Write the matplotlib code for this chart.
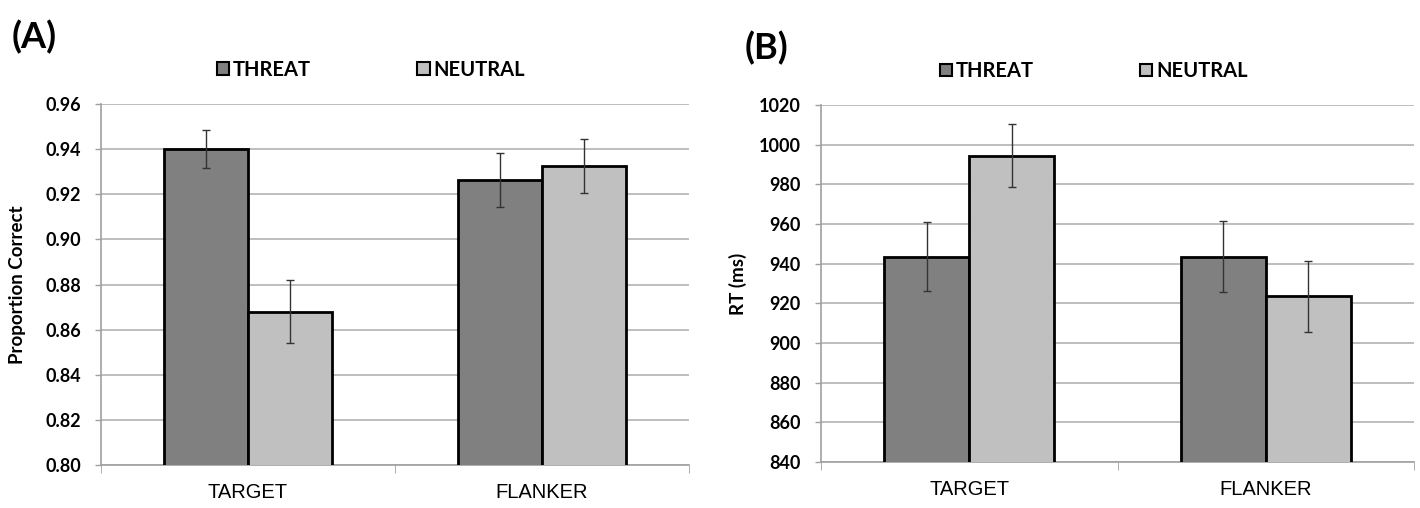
import matplotlib.pyplot as plt
from matplotlib.patches import Patch
import numpy as np

plt.rcParams["font.family"] = ["Lato", "DejaVu Sans"]

categories = ["TARGET", "FLANKER"]
series = ["THREAT", "NEUTRAL"]
colors = ["#808080", "#c0c0c0"]

# panel A: proportion correct
acc_threat = [0.940, 0.9265]
acc_neutral = [0.868, 0.9325]
acc_threat_err = [0.0085, 0.012]
acc_neutral_err = [0.014, 0.0118]

# panel B: reaction time
rt_threat = [943.5, 943.5]
rt_neutral = [994.5, 923.5]
rt_threat_err = [17.5, 18]
rt_neutral_err = [16, 18]

fig = plt.figure(figsize=(14.2, 5.08), dpi=100)
ax_a = fig.add_axes([0.0711, 0.0846, 0.4141, 0.7106])
ax_b = fig.add_axes([0.5782, 0.0906, 0.4176, 0.7028])


def draw_panel(ax, threat, neutral, terr, nerr, ylim, yticks, fmt, ylabel, label_x, leg_x):
    x = np.arange(len(categories))
    w = 0.287
    ax.bar(x - w / 2, threat, w, color=colors[0], edgecolor="black", linewidth=2, zorder=3)
    ax.bar(x + w / 2, neutral, w, color=colors[1], edgecolor="black", linewidth=2, zorder=3)
    ax.errorbar(x - w / 2, threat, yerr=terr, fmt="none", ecolor="#333333", elinewidth=1, capsize=3, capthick=1, zorder=4)
    ax.errorbar(x + w / 2, neutral, yerr=nerr, fmt="none", ecolor="#333333", elinewidth=1, capsize=3, capthick=1, zorder=4)
    ax.set_xlim(-0.5, len(categories) - 0.5)
    ax.set_ylim(*ylim)
    ax.set_yticks(yticks)
    ax.set_yticklabels([fmt.format(v) for v in yticks], fontsize=13, fontweight="bold")
    ax.yaxis.grid(True, color="#b3b3b3", linewidth=1.2, zorder=0)
    ax.set_axisbelow(True)
    # category labels at centres, tick marks at category boundaries
    ax.set_xticks(x)
    ax.set_xticklabels(categories, fontsize=14.5, family="Liberation Sans")
    ax.tick_params(axis="x", length=0, pad=13)
    ax.set_xticks(np.arange(-0.5, len(categories)), minor=True)
    ax.tick_params(axis="x", which="minor", length=6, color="#a0a0a0", direction="out")
    ax.tick_params(axis="y", length=4.5, color="#a0a0a0", width=1, pad=10)
    for side in ["top", "right"]:
        ax.spines[side].set_visible(False)
    for side in ["left", "bottom"]:
        ax.spines[side].set_color("#a0a0a0")
        ax.spines[side].set_linewidth(1.2)
    ax.set_ylabel(ylabel, fontsize=13.5, fontweight="bold")
    ax.yaxis.set_label_coords(label_x, 0.5)
    handles = [Patch(facecolor=c, edgecolor="black", linewidth=1.5, label=s) for c, s in zip(colors, series)]
    ax.legend(handles=handles, loc="center", bbox_to_anchor=(leg_x, 1.095), ncol=2, frameon=False,
              prop={"size": 14.5, "weight": "bold"}, handlelength=0.6, handleheight=0.6,
              handletextpad=0.2, columnspacing=5.3)


draw_panel(ax_a, acc_threat, acc_neutral, acc_threat_err, acc_neutral_err,
           (0.80, 0.96), np.arange(0.80, 0.961, 0.02), "{:.2f}", "Proportion Correct", -0.128, 0.459)
draw_panel(ax_b, rt_threat, rt_neutral, rt_threat_err, rt_neutral_err,
           (840, 1020), np.arange(840, 1021, 20), "{:.0f}", "RT (ms)", -0.125, 0.460)

fig.text(0.008, 0.927, "(A)", fontsize=26, fontweight="bold", va="center")
fig.text(0.5246, 0.906, "(B)", fontsize=26, fontweight="bold", va="center")

fig.savefig("out.png", dpi=100)
